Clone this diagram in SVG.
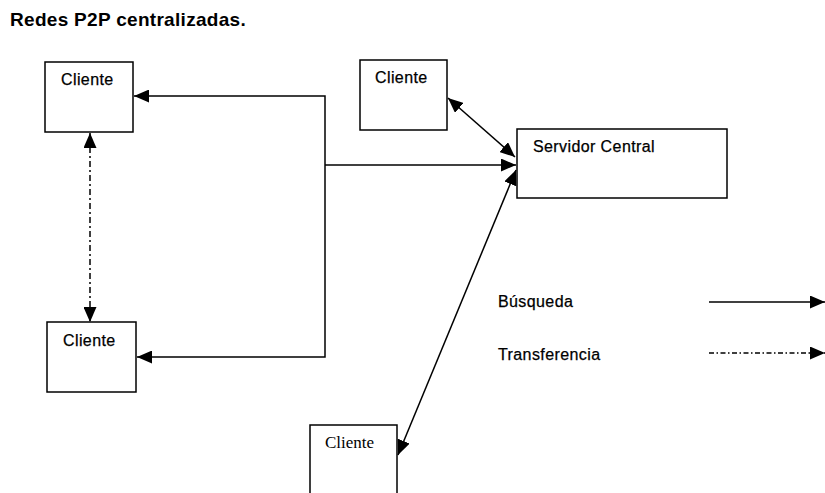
<svg xmlns="http://www.w3.org/2000/svg" width="825" height="493" viewBox="0 0 825 493">
<defs>
<style>
.box{fill:#fff;stroke:#000;stroke-width:1.5}
.lbl{font-family:"Liberation Sans",Arial,sans-serif;font-size:16px;fill:#000;letter-spacing:0.4px;stroke:#000;stroke-width:0.25}
.ser{font-family:"Liberation Serif","Times New Roman",serif;font-size:17px;fill:#000}
.ln{fill:none;stroke:#000;stroke-width:1.5}
.dd{fill:none;stroke:#000;stroke-width:1.5;stroke-dasharray:6 3 2 3}
</style>
<marker id="ah" markerUnits="userSpaceOnUse" markerWidth="16" markerHeight="13" refX="15" refY="6.5" orient="auto-start-reverse">
<path d="M0,0 L15,6.5 L0,13 z" fill="#000"/>
</marker>
</defs>
<rect width="825" height="493" fill="#fff"/>
<text x="10" y="26" font-family="Liberation Sans,Arial,sans-serif" font-weight="bold" font-size="19" letter-spacing="0.3" fill="#000">Redes P2P centralizadas.</text>

<g id="connectors">
<polyline class="ln" points="325,165 325,96 134,96" marker-end="url(#ah)"/>
<polyline class="ln" points="325,165 325,357 137,357" marker-end="url(#ah)"/>
<line class="ln" x1="325" y1="165" x2="516" y2="165" marker-end="url(#ah)"/>
<line class="ln" x1="448" y1="98" x2="515" y2="157" marker-start="url(#ah)" marker-end="url(#ah)"/>
<line class="ln" x1="398" y1="455" x2="516" y2="170" marker-start="url(#ah)" marker-end="url(#ah)"/>
<line class="dd" x1="90" y1="133" x2="90" y2="322" marker-start="url(#ah)" marker-end="url(#ah)"/>
</g>

<g id="cliente1">
<rect class="box" x="45" y="62" width="88" height="70"/>
<text class="lbl" x="61" y="85">Cliente</text>
</g>
<g id="cliente2">
<rect class="box" x="47" y="322" width="89" height="70"/>
<text class="lbl" x="63" y="346">Cliente</text>
</g>
<g id="cliente3">
<rect class="box" x="360" y="60" width="87" height="70"/>
<text class="lbl" x="375" y="83">Cliente</text>
</g>
<g id="servidor">
<rect class="box" x="517" y="129" width="210" height="69"/>
<text class="lbl" x="533" y="152">Servidor Central</text>
</g>
<g id="cliente4">
<rect class="box" x="310" y="425" width="87" height="80"/>
<text class="ser" x="325" y="448">Cliente</text>
</g>

<g id="legend">
<text class="lbl" x="498" y="307">Búsqueda</text>
<line class="ln" x1="709" y1="302" x2="825" y2="302" marker-end="url(#ah)"/>
<text class="lbl" x="498" y="360">Transferencia</text>
<line class="ln" x1="709" y1="353" x2="825" y2="353" stroke-dasharray="5 2.5 1.5 2.5" marker-end="url(#ah)"/>
</g>
</svg>
